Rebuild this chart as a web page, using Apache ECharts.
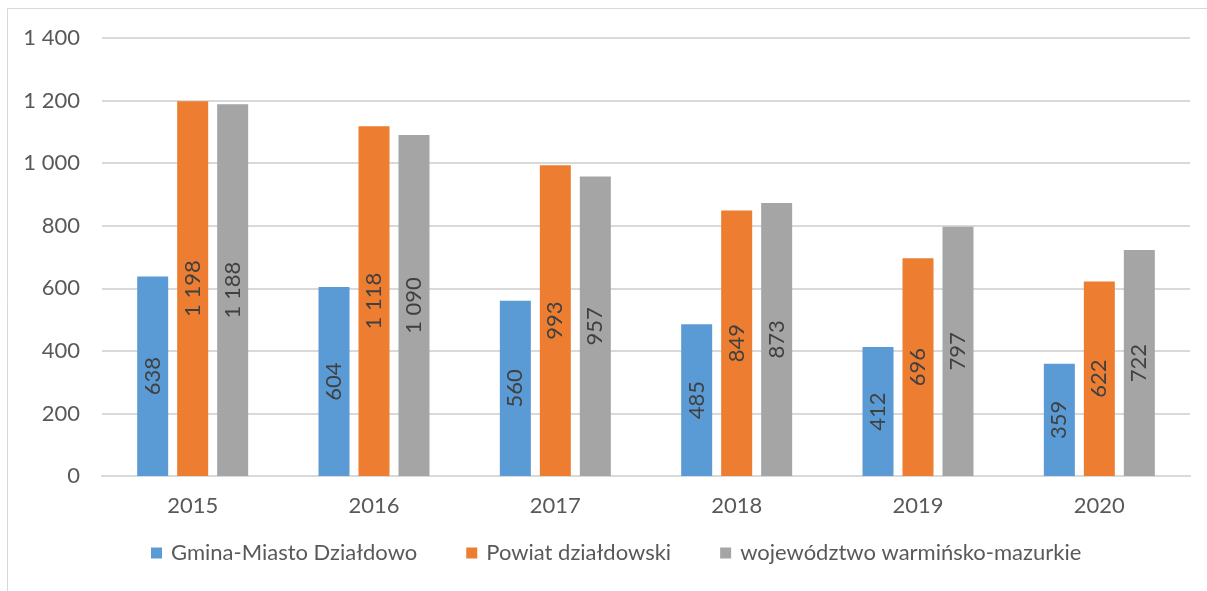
<!DOCTYPE html>
<html>
<head>
<meta charset="utf-8">
<title>Gmina-Miasto Działdowo</title>
<script src="https://cdn.jsdelivr.net/npm/echarts@6/dist/echarts.min.js"></script>
<style>
  html, body { margin: 0; padding: 0; background: #fff; }
  #main { width: 1207px; height: 591px; }
</style>
</head>
<body>
<div id="main"></div>
<script>
// lata
var years = ['2015', '2016', '2017', '2018', '2019', '2020']
// wartości serii
var gminaValues = [638, 604, 560, 485, 412, 359]
var powiatValues = [1198, 1118, 993, 849, 696, 622]
var wojewValues = [1188, 1090, 957, 873, 797, 722]
var seriesNames = ['Gmina-Miasto Działdowo', 'Powiat działdowski', 'województwo warmińsko-mazurkie']
// oś Y
var yMin = 0
var yMax = 1400
var yStep = 200

var FONT = 'Lato, "Open Sans", sans-serif'

/** liczby ze spacją jako separatorem tysięcy */
function fmt(v) {
  return String(v).replace(/\B(?=(\d{3})+(?!\d))/g, ' ')
}

function makeSeries(name, data, color) {
  return {
    name: name,
    type: 'bar',
    barWidth: 31,
    barGap: '29%',
    data: data,
    itemStyle: { color: color },
    label: {
      show: true,
      position: 'inside',
      rotate: 90,
      color: '#404040',
      fontFamily: FONT,
      fontSize: 22,
      formatter: function (p) { return fmt(p.value) }
    }
  }
}

var chart = echarts.init(document.getElementById('main'))
var option = {
  animation: false,
  color: ['#5b9bd5', '#ed7d31', '#a5a5a5'],
  textStyle: { fontFamily: FONT },
  graphic: [
    {
      type: 'polyline',
      silent: true,
      shape: { points: [[7.5, 591], [7.5, 8.5], [1207, 8.5]] },
      style: { stroke: '#d9d9d9', lineWidth: 1, fill: null }
    }
  ],
  legend: {
    data: seriesNames,
    bottom: 22,
    left: 146,
    itemWidth: 11,
    itemHeight: 11,
    itemGap: 49,
    icon: 'rect',
    textStyle: { color: '#595959', fontSize: 22, fontFamily: FONT, padding: [0, 0, 0, 4] }
  },
  grid: {
    left: 102,
    right: 17,
    top: 38,
    bottom: 115
  },
  xAxis: {
    type: 'category',
    data: years,
    axisTick: { show: false },
    axisLine: { lineStyle: { color: '#d9d9d9', width: 2 } },
    axisLabel: { color: '#595959', fontSize: 22, margin: 19 }
  },
  yAxis: {
    type: 'value',
    min: yMin,
    max: yMax,
    interval: yStep,
    axisLine: { show: false },
    axisTick: { show: false },
    splitLine: { lineStyle: { color: '#d9d9d9', width: 2 } },
    axisLabel: {
      color: '#595959',
      fontSize: 22,
      margin: 22,
      formatter: function (v) { return fmt(v) }
    }
  },
  series: [
    makeSeries(seriesNames[0], gminaValues, '#5b9bd5'),
    makeSeries(seriesNames[1], powiatValues, '#ed7d31'),
    makeSeries(seriesNames[2], wojewValues, '#a5a5a5')
  ]
}
chart.setOption(option)
</script>
</body>
</html>
